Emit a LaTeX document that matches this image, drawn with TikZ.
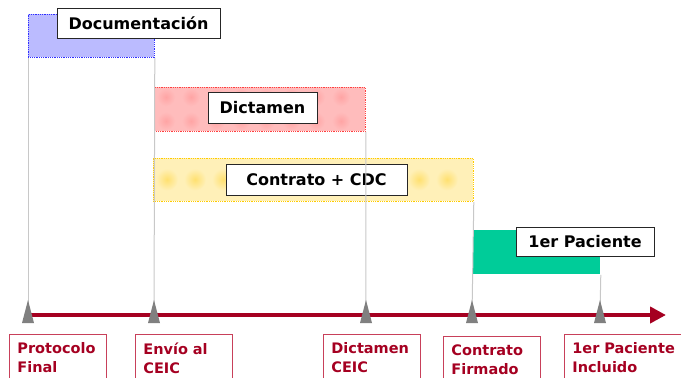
\documentclass[tikz,border=0pt]{standalone}
\usepackage{fontspec}
\setmainfont{DejaVu Sans}
\usetikzlibrary{arrows.meta,calc}
\definecolor{axisred}{HTML}{A50021}
\definecolor{boxred}{HTML}{C8405A}
\definecolor{trigray}{HTML}{808080}
\definecolor{vgray}{HTML}{C8C8C8}
\definecolor{dblue}{HTML}{3030FF}
\definecolor{lblue}{HTML}{BBBBFF}
\definecolor{dred}{HTML}{FF4040}
\definecolor{lred}{HTML}{FFBCBC}
\definecolor{mred}{HTML}{FFA4A4}
\definecolor{dyellow}{HTML}{FFCC00}
\definecolor{lyellow}{HTML}{FFF0B8}
\definecolor{myellow}{HTML}{FFE070}
\definecolor{pgreen}{HTML}{00CC99}
\begin{document}
\begin{tikzpicture}[x=1pt,y=-1pt,
  bar/.style={draw, densely dotted, line width=0.8pt, inner sep=0pt, anchor=north west},
  tag/.style={draw=black!85, line width=0.8pt, fill=white, inner sep=0pt,
    font=\fontsize{16}{19}\selectfont\bfseries},
  milestone/.style={draw=boxred, line width=0.8pt, anchor=north west, text width=81pt,
    inner xsep=8pt, inner ysep=8.5pt, align=left, text=axisred,
    font=\fontsize{14.5}{19}\selectfont\bfseries},
  vline/.style={draw=vgray, line width=1pt},
  tri/.style={fill=trigray},
  axisline/.style={draw=axisred, line width=4pt, -{Triangle[length=16pt,width=16pt]}}]
\useasboundingbox (0,0) rectangle (681,378);
\clip (0,0) rectangle (681,378);

% bars
\node[bar, draw=dblue, fill=lblue, minimum width=126pt, minimum height=43pt] (doc) at (28,14) {};
\node[bar, draw=dred, fill=lred, minimum width=211pt, minimum height=44pt] (dict) at (154,87) {};
\foreach \x in {166,191,...,355} {
  \shade[inner color=mred, outer color=lred] (\x,97) circle (9);
  \shade[inner color=mred, outer color=lred] (\x,121) circle (9);
}
\node[bar, draw=dyellow, fill=lyellow, minimum width=320pt, minimum height=43pt] (cont) at (153,158) {};
\foreach \x in {167,195,...,450} {
  \shade[inner color=myellow, outer color=lyellow] (\x,179.5) circle (11);
}
\node[bar, draw=none, solid, fill=pgreen, minimum width=127pt, minimum height=44pt] (pac) at (473,230) {};

% axis
\coordinate (m1) at (28,315);
\coordinate (m2) at (154,315);
\coordinate (m3) at (366,315);
\coordinate (m4) at (472,315);
\coordinate (m5) at (600,315);
\coordinate (axend) at (666,315);

% tags
\node[tag, minimum width=163pt, minimum height=30pt] (tdoc) at (138.5,23) {Documentación};
\node[tag, minimum width=109pt, minimum height=31pt] (tdict) at (262.5,107.5) {Dictamen};
\node[tag, minimum width=181pt, minimum height=31pt] (tcont) at (316.5,179.5) {Contrato + CDC};
\node[tag, minimum width=138pt, minimum height=29pt] (tpac) at (585,241.5) {1er Paciente};

% vertical guide lines
\draw[vline] (doc.south west) -- (m1);
\draw[vline] (doc.south east) -- (m2);
\draw[vline] (dict.south east) -- (m3);
\draw[vline] (cont.south east) -- (m4);
\draw[vline] (pac.south east) -- (m5);

\draw[axisline] (m1) -- (axend);

\foreach \m in {m1,m2,m3,m4,m5} {
  \fill[tri] ($(\m)+(-6,8)$) -- ($(\m)+(0,-15)$) -- ($(\m)+(6,8)$) -- cycle;
}

% milestone labels
\node[milestone] (l1) at (9,334) {Protocolo\\Final};
\node[milestone] (l2) at (135,334) {Envío al\\CEIC};
\node[milestone] (l3) at (323,334) {Dictamen\\CEIC};
\node[milestone] (l4) at (443,336) {Contrato\\Firmado};
\node[milestone, text width=110pt] (l5) at (564,334) {1er Paciente\\Incluido};
\end{tikzpicture}
\end{document}
